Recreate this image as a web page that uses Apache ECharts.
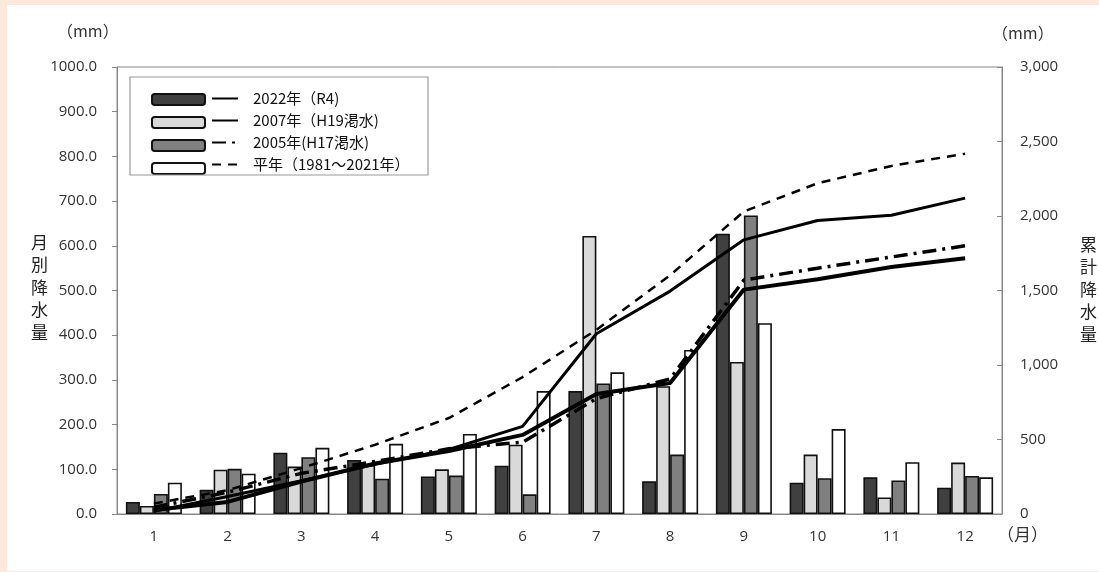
<!DOCTYPE html>
<html>
<head>
<meta charset="utf-8">
<script src="https://cdn.jsdelivr.net/npm/echarts@6/dist/echarts.min.js"></script>
<style>
  html, body { margin: 0; padding: 0; background: #fde9dc; width: 1099px; height: 572px; overflow: hidden; }
  #chart { position: absolute; left: 7px; top: 5px; width: 1092px; height: 566px; background: #fff; }
</style>
</head>
<body>
<div id="chart"></div>
<script>
// 月
const months = ['1', '2', '3', '4', '5', '6', '7', '8', '9', '10', '11', '12']
// 月別降水量 (mm)
const rainR4 = [27, 54, 137, 121, 84, 108, 275, 73, 627, 70, 82, 59]
const rainH19 = [18, 99, 106, 110, 100, 155, 622, 286, 340, 133, 37, 115]
const rainH17 = [45, 101, 127, 79, 86, 44, 292, 133, 668, 80, 75, 85]
const rainNormal = [70, 90, 148, 157, 179, 275, 317, 367, 427, 190, 116, 82]
// 累計降水量 (mm)
const cumR4 = [27, 81, 218, 339, 423, 531, 806, 879, 1506, 1576, 1658, 1717]
const cumH19 = [18, 117, 223, 333, 433, 588, 1210, 1496, 1840, 1970, 2005, 2120]
const cumH17 = [45, 146, 273, 352, 438, 482, 774, 907, 1570, 1650, 1725, 1800]
const cumNormal = [70, 160, 308, 465, 644, 919, 1236, 1603, 2030, 2220, 2336, 2418]
// 凡例
const labels = ['2022年（R4)', '2007年（H19渇水)', '2005年(H17渇水)', '平年（1981～2021年）']

const FONT = '"Noto Sans CJK JP", sans-serif'
const NUM_FONT = '"Open Sans", "Noto Sans CJK JP", sans-serif'
const chart = echarts.init(document.getElementById('chart'))

const barSeries = (name, data, color) => ({
  type: 'bar',
  name: name,
  data: data,
  yAxisIndex: 0,
  barWidth: 14,
  barGap: '0%',
  itemStyle: { color: color, borderColor: '#111', borderWidth: 1.6 },
  z: 2
})
const lineSeries = (name, data, width, type) => ({
  type: 'line',
  name: name,
  data: data,
  yAxisIndex: 1,
  symbol: 'none',
  lineStyle: { color: '#000', width: width, type: type },
  itemStyle: { color: '#000' },
  z: 5
})

const option = {
  animation: false,
  textStyle: { fontFamily: FONT },
  grid: {
    left: 110, right: 97, top: 62, bottom: 57,
    show: true, borderColor: '#888', borderWidth: 1
  },
  legend: [
    {
      data: labels.map((l) => 'bar_' + l),
      orient: 'vertical',
      left: 139, top: 83,
      itemWidth: 53, itemHeight: 11, itemGap: 10,
      formatter: () => '',
      textStyle: { fontSize: 11 },
      selectedMode: false
    },
    {
      data: labels,
      orient: 'vertical',
      left: 199, top: 81,
      itemWidth: 26, itemHeight: 14, itemGap: 7,
      itemStyle: { opacity: 0 },
      textStyle: { fontSize: 15, color: '#111', fontFamily: FONT, padding: [0, 0, 0, 10] },
      selectedMode: false
    }
  ],
  graphic: [
    { type: 'rect', shape: { x: 123, y: 72, width: 298, height: 98 }, style: { fill: 'none', stroke: '#999', lineWidth: 1.2 }, z: 10 },
    { type: 'text', left: 50, top: 18, style: { text: '（mm）', font: '16px ' + FONT, fill: '#333' } },
    { type: 'text', left: 985, top: 20, style: { text: '（mm）', font: '16px ' + FONT, fill: '#333' } },
    { type: 'text', left: 990, top: 521, style: { text: '（月）', font: '17px ' + FONT, fill: '#333' } },
    { type: 'text', left: 24, top: 226, style: { text: '月\n別\n降\n水\n量', font: '17px ' + FONT, lineHeight: 22.5, fill: '#222' } },
    { type: 'text', left: 1073, top: 228, style: { text: '累\n計\n降\n水\n量', font: '17px ' + FONT, lineHeight: 22.5, fill: '#222' } }
  ],
  xAxis: {
    type: 'category',
    data: months,
    axisLine: { lineStyle: { color: '#888' } },
    axisTick: { inside: true, length: 5, lineStyle: { color: '#888' } },
    axisLabel: { fontSize: 15, color: '#333', margin: 15, fontFamily: NUM_FONT }
  },
  yAxis: [
    {
      type: 'value', min: 0, max: 1000, interval: 100,
      axisLine: { show: true, lineStyle: { color: '#888' } },
      axisTick: { show: true, length: 5, lineStyle: { color: '#888' } },
      splitLine: { show: false },
      axisLabel: { fontSize: 15, color: '#333', margin: 20, fontFamily: NUM_FONT, formatter: (v) => v.toFixed(1) }
    },
    {
      type: 'value', min: 0, max: 3000, interval: 500,
      axisLine: { show: true, lineStyle: { color: '#888' } },
      axisTick: { show: true, inside: true, length: 5, lineStyle: { color: '#888' } },
      splitLine: { show: false },
      axisLabel: { fontSize: 15, color: '#333', margin: 18, fontFamily: NUM_FONT, formatter: (v) => v.toLocaleString('en-US') }
    }
  ],
  series: [
    barSeries('bar_' + labels[0], rainR4, '#404040'),
    barSeries('bar_' + labels[1], rainH19, '#d9d9d9'),
    barSeries('bar_' + labels[2], rainH17, '#808080'),
    barSeries('bar_' + labels[3], rainNormal, '#ffffff'),
    lineSeries(labels[0], cumR4, 4, 'solid'),
    lineSeries(labels[1], cumH19, 3, 'solid'),
    lineSeries(labels[2], cumH17, 3.5, [14, 6, 3, 6]),
    lineSeries(labels[3], cumNormal, 2.5, [9, 7])
  ]
}
chart.setOption(option)
</script>
</body>
</html>
